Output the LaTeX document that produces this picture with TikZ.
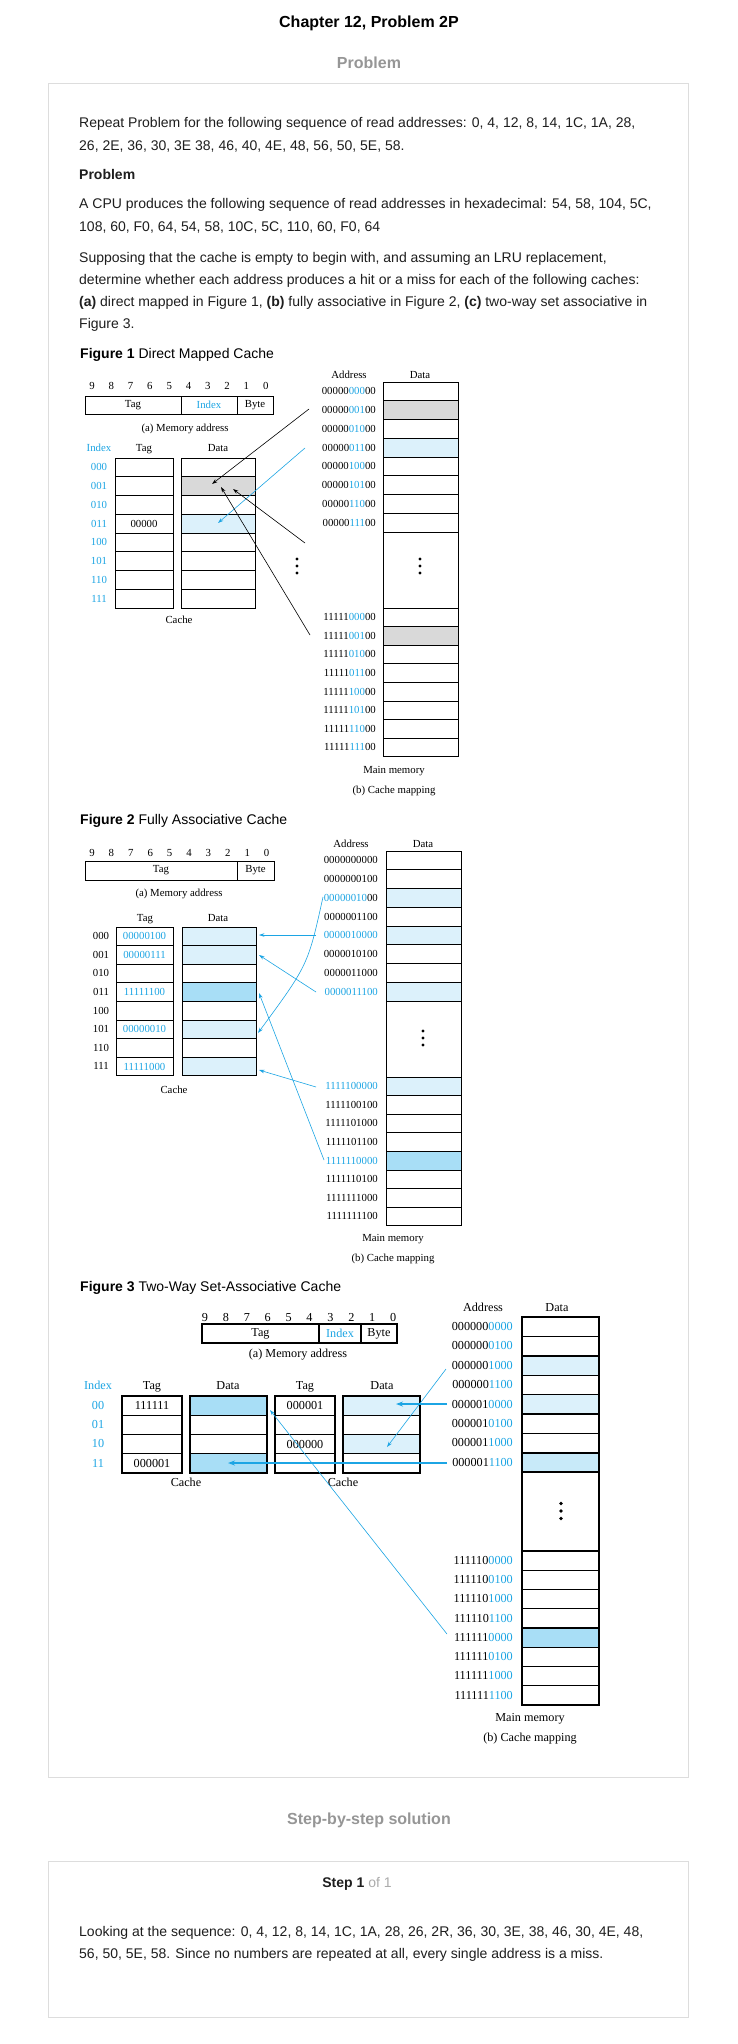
\documentclass[tikz,border=0pt]{standalone}
\usepackage{fontspec}
\setmainfont{Liberation Serif}
\newfontfamily\websans{Liberation Sans}
\usetikzlibrary{arrows.meta}
\definecolor{cb}{RGB}{28,165,228}
\definecolor{fillL}{RGB}{220,241,251}
\definecolor{fillM}{RGB}{200,234,249}
\definecolor{fillD}{RGB}{168,222,246}
\definecolor{fillG}{RGB}{217,217,217}
\definecolor{frameG}{RGB}{221,221,221}
\definecolor{headG}{RGB}{150,150,150}
\definecolor{txt}{RGB}{30,30,30}
\tikzset{
  web/.style={font=\websans\fontsize{14}{16}\selectfont, text=txt, inner sep=0pt, anchor=base west},
  webhead/.style={font=\websans\bfseries\fontsize{16}{18}\selectfont, inner sep=0pt, anchor=base},
  frame/.style={draw=frameG, line width=1pt},
  cellA/.style={draw=black, line width=0.7pt, inner sep=0pt, outer sep=0pt, anchor=north west, font=\fontsize{10.8}{12}\selectfont},
  cellB/.style={cellA, line width=1.4pt, font=\fontsize{12.2}{14}\selectfont},
  lblA/.style={inner sep=0pt, font=\fontsize{10.8}{12}\selectfont, text height=7.3pt, text depth=0.6pt},
  lblB/.style={inner sep=0pt, font=\fontsize{12.2}{14}\selectfont, text height=8.2pt, text depth=0.7pt},
  arr/.style={line width=0.6pt, -{Stealth[length=5.5pt,width=3.6pt]}},
  arrB/.style={arr, draw=cb},
  arrT/.style={draw=cb, line width=1.5pt, -{Stealth[length=7pt,width=5pt]}},
  dot/.style={fill=black},
}
\begin{document}
\begin{tikzpicture}[x=1pt,y=-1pt]
\useasboundingbox (0,0) rectangle (738,2044);
\fill[white] (0,0) rectangle (738,2044);

% ---------------- web texts ----------------
\node[webhead] (title) at (369,28) {Chapter 12, Problem 2P};
\node[webhead, text=headG] (probhead) at (369,69) {Problem};
\draw[frame] (48.5,84) rectangle (688,1777);
\node[web] (l1) at (79,128) {Repeat Problem for the following sequence of read addresses: 0, 4, 12, 8, 14, 1C, 1A, 28,};
\node[web] (l2) at (79,151) {26, 2E, 36, 30, 3E 38, 46, 40, 4E, 48, 56, 50, 5E, 58.};
\node[web] (l3) at (79,180) {\bfseries Problem};
\node[web] (l4) at (79,209) {A CPU produces the following sequence of read addresses in hexadecimal: 54, 58, 104, 5C,};
\node[web] (l5) at (79,232) {108, 60, F0, 64, 54, 58, 10C, 5C, 110, 60, F0, 64};
\node[web] (l6) at (79,262) {Supposing that the cache is empty to begin with, and assuming an LRU replacement,};
\node[web] (l7) at (79,284) {determine whether each address produces a hit or a miss for each of the following caches:};
\node[web] (l8) at (79,306) {\textbf{(a)} direct mapped in Figure 1, \textbf{(b)} fully associative in Figure 2, \textbf{(c)} two-way set associative in};
\node[web] (l9) at (79,328) {Figure 3.};

% ================= FIGURE 1 =================
\node[web, text=black] (fAhead) at (80,358) {\textbf{Figure 1} Direct Mapped Cache};
\foreach \k in {0,...,9} {
  \pgfmathtruncatemacro\bit{9-\k}
  \node[lblA] (fAb\k) at ({92+\k*19.3},386) {\bit};
}
\node[cellA, minimum width=96pt, minimum height=18pt] (fAtag) at (85,396) {Tag};
\node[cellA, minimum width=56pt, minimum height=18pt, text=cb] (fAidx) at (181,396) {Index};
\node[cellA, minimum width=36pt, minimum height=18pt] (fAbyte) at (237,396) {Byte};
\node[lblA] (fAma) at (185,428) {(a) Memory address};
\node[lblA, text=cb] (fAhi) at (99,448) {Index};
\node[lblA] (fAht) at (144,448) {Tag};
\node[lblA] (fAhd) at (218,448) {Data};
\foreach \i/\b/\t/\f in {0/000/{}/white,1/001/{}/fillG,2/010/{}/white,3/011/00000/fillL,4/100/{}/white,5/101/{}/white,6/110/{}/white,7/111/{}/white} {
  \node[lblA, text=cb] (fAi\i) at (99,{467.4+\i*18.75}) {\b};
  \node[cellA, minimum width=58pt, minimum height=18.75pt] (fAt\i) at (115,{458+\i*18.75}) {\t};
  \node[cellA, minimum width=74pt, minimum height=18.75pt, fill=\f] (fAd\i) at (181,{458+\i*18.75}) {};
}
\node[lblA] (fAcache) at (179,620) {Cache};
% memory
\node[lblA] (fAha) at (349,375) {Address};
\node[lblA] (fAhm) at (420,375) {Data};
\foreach \i/\b/\f in {0/000/white,1/001/fillG,2/010/white,3/011/fillL,4/100/white,5/101/white,6/110/white,7/111/white} {
  \node[cellA, minimum width=75pt, minimum height=18.75pt, fill=\f] (fAm\i) at (383,{382+\i*18.75}) {};
  \node[lblA, anchor=east] (fAa\i) at (376,{391.4+\i*18.75}) {00000\textcolor{cb}{\b}00};
}
\node[cellA, minimum width=75pt, minimum height=76pt] (fAgap) at (383,532) {};
\foreach \i/\b/\f in {0/000/white,1/001/fillG,2/010/white,3/011/white,4/100/white,5/101/white,6/110/white,7/111/white} {
  \node[cellA, minimum width=75pt, minimum height=18.6pt, fill=\f] (fAn\i) at (383,{608+\i*18.6}) {};
  \node[lblA, anchor=east] (fAl\i) at (376,{617.3+\i*18.6}) {11111\textcolor{cb}{\b}00};
}
\foreach \d in {-7,0,7} {
  \fill[dot] (297,{566+\d}) circle (1.6);
  \fill[dot] (420,{566+\d}) circle (1.6);
}
\node[lblA] (fAmm) at (394,770) {Main memory};
\node[lblA] (fAcm) at (394,790) {(b) Cache mapping};
\coordinate (fAs1) at (309,409); \coordinate (fAe1) at (212,484);
\coordinate (fAs2) at (305,448); \coordinate (fAe2) at (218,523);
\coordinate (fAs3) at (305,543); \coordinate (fAe3) at (233,489);
\coordinate (fAs4) at (310,635); \coordinate (fAe4) at (221,487);
\draw[arr] (fAs1) -- (fAe1);
\draw[arrB] (fAs2) -- (fAe2);
\draw[arr] (fAs3) -- (fAe3);
\draw[arr] (fAs4) -- (fAe4);

% ================= FIGURE 2 =================
\node[web, text=black] (fBhead) at (80,824) {\textbf{Figure 2} Fully Associative Cache};
\foreach \k in {0,...,9} {
  \pgfmathtruncatemacro\bit{9-\k}
  \node[lblA] (fBb\k) at ({92+\k*19.4},853) {\bit};
}
\node[cellA, minimum width=152pt, minimum height=19pt] (fBtag) at (85,861) {Tag};
\node[cellA, minimum width=37pt, minimum height=19pt] (fBbyte) at (237,861) {Byte};
\node[lblA] (fBma) at (179,893) {(a) Memory address};
\node[lblA] (fBht) at (145,918) {Tag};
\node[lblA] (fBhd) at (218,918) {Data};
\foreach \i/\b/\t/\f in {0/000/00000100/fillL,1/001/00000111/fillL,2/010/{}/white,3/011/11111100/fillD,4/100/{}/white,5/101/00000010/fillL,6/110/{}/white,7/111/11111000/fillL} {
  \node[lblA] (fBi\i) at (101,{936.3+\i*18.6}) {\b};
  \node[cellA, minimum width=57pt, minimum height=18.6pt, text=cb] (fBt\i) at (116,{927+\i*18.6}) {\t};
  \node[cellA, minimum width=74pt, minimum height=18.6pt, fill=\f] (fBd\i) at (182,{927+\i*18.6}) {};
}
\node[lblA] (fBcache) at (174,1090) {Cache};
\node[lblA] (fBha) at (351,844) {Address};
\node[lblA] (fBhm) at (423,844) {Data};
\foreach \i/\a/\f in {0/0000000000/white,1/0000000100/white,2/{\textcolor{cb}{00000010}00}/fillL,3/0000001100/white,4/{\textcolor{cb}{0000010000}}/fillL,5/0000010100/white,6/0000011000/white,7/{\textcolor{cb}{0000011100}}/fillL} {
  \node[cellA, minimum width=75pt, minimum height=18.75pt, fill=\f] (fBm\i) at (386,{851+\i*18.75}) {};
  \node[lblA, anchor=east] (fBa\i) at (378,{860.4+\i*18.75}) {\a};
}
\node[cellA, minimum width=75pt, minimum height=76pt] (fBgap) at (386,1001) {};
\foreach \i/\a/\f in {0/{\textcolor{cb}{1111100000}}/fillL,1/1111100100/white,2/1111101000/white,3/1111101100/white,4/{\textcolor{cb}{1111110000}}/fillD,5/1111110100/white,6/1111111000/white,7/1111111100/white} {
  \node[cellA, minimum width=75pt, minimum height=18.6pt, fill=\f] (fBn\i) at (386,{1077+\i*18.6}) {};
  \node[lblA, anchor=east] (fBl\i) at (378,{1086.3+\i*18.6}) {\a};
}
\foreach \d in {-7,0,7} {
  \fill[dot] (423,{1038+\d}) circle (1.6);
}
\node[lblA] (fBmm) at (393,1238) {Main memory};
\node[lblA] (fBcm) at (393,1258) {(b) Cache mapping};
\coordinate (fBs1) at (316,935);  \coordinate (fBe1) at (259,935);
\coordinate (fBs2) at (316,992);  \coordinate (fBe2) at (259,955);
\coordinate (fBs3) at (323,897);  \coordinate (fBe3) at (258,1033);
\coordinate (fBs4) at (316,1087); \coordinate (fBe4) at (259,1070);
\coordinate (fBs5) at (324,1160); \coordinate (fBe5) at (259,993);
\draw[arrB] (fBs1) -- (fBe1);
\draw[arrB] (fBs2) -- (fBe2);
\draw[arrB] (fBs3) .. controls (308,965) .. (fBe3);
\draw[arrB] (fBs4) -- (fBe4);
\draw[arrB] (fBs5) -- (fBe5);

% ================= FIGURE 3 =================
\node[web, text=black] (fChead) at (80,1291) {\textbf{Figure 3} Two-Way Set-Associative Cache};
\foreach \k in {0,...,9} {
  \pgfmathtruncatemacro\bit{9-\k}
  \node[lblB] (fCb\k) at ({205+\k*20.9},1318) {\bit};
}
\node[cellB, minimum width=117pt, minimum height=19pt] (fCtag) at (202,1324) {Tag};
\node[cellB, minimum width=42pt, minimum height=19pt, text=cb] (fCidx) at (319,1324) {Index};
\node[cellB, minimum width=36pt, minimum height=19pt] (fCbyte) at (361,1324) {Byte};
\node[lblB] (fCma) at (298,1354) {(a) Memory address};
\node[lblB, text=cb] (fChi) at (98,1386) {Index};
\node[lblB] (fCht1) at (152,1386) {Tag};
\node[lblB] (fChd1) at (228,1386) {Data};
\node[lblB] (fCht2) at (305,1386) {Tag};
\node[lblB] (fChd2) at (382,1386) {Data};
\foreach \i/\b/\ta/\fa/\tb/\fb in {0/00/111111/fillD/000001/fillL,1/01/{}/white/{}/white,2/10/{}/white/000000/fillL,3/11/000001/fillD/{}/white} {
  \node[lblB, text=cb] (fCi\i) at (98,{1405.6+\i*19.25}) {\b};
  \node[cellB, minimum width=60pt, minimum height=19.25pt] (fCt\i) at (122,{1396+\i*19.25}) {\ta};
  \node[cellB, minimum width=77pt, minimum height=19.25pt, fill=\fa] (fCd\i) at (190,{1396+\i*19.25}) {};
  \node[cellB, minimum width=60pt, minimum height=19.25pt] (fCu\i) at (275,{1396+\i*19.25}) {\tb};
  \node[cellB, minimum width=77pt, minimum height=19.25pt, fill=\fb] (fCe\i) at (343,{1396+\i*19.25}) {};
}
\node[lblB] (fCcache1) at (186,1483) {Cache};
\node[lblB] (fCcache2) at (343,1483) {Cache};
\node[lblB] (fCha) at (483,1308) {Address};
\node[lblB] (fChm) at (557,1308) {Data};
\foreach \i/\h/\l/\f in {0/000000/0000/white,1/000000/0100/white,2/000000/1000/fillL,3/000000/1100/white,4/000001/0000/fillL,5/000001/0100/white,6/000001/1000/white,7/000001/1100/fillM} {
  \node[cellB, minimum width=77pt, minimum height=19.4pt, fill=\f] (fCm\i) at (522,{1317+\i*19.4}) {};
  \node[lblB, anchor=east] (fCa\i) at (513,{1326.7+\i*19.4}) {\h\textcolor{cb}{\l}};
}
\node[cellB, minimum width=77pt, minimum height=79pt] (fCgap) at (522,1472) {};
\foreach \i/\h/\l/\f in {0/111110/0000/white,1/111110/0100/white,2/111110/1000/white,3/111110/1100/white,4/111111/0000/fillD,5/111111/0100/white,6/111111/1000/white,7/111111/1100/white} {
  \node[cellB, minimum width=77pt, minimum height=19.25pt, fill=\f] (fCn\i) at (522,{1551+\i*19.25}) {};
  \node[lblB, anchor=east] (fCl\i) at (513,{1560.6+\i*19.25}) {\h\textcolor{cb}{\l}};
}
\foreach \d in {-7.5,0,7.5} {
  \fill[dot] (561,{1511+\d}) circle (1.8);
}
\node[lblB] (fCmm) at (530,1718) {Main memory};
\node[lblB] (fCcm) at (530,1738) {(b) Cache mapping};
\coordinate (fCs1) at (447,1404); \coordinate (fCe1) at (396,1404);
\coordinate (fCs2) at (446,1369); \coordinate (fCe2) at (387,1447);
\coordinate (fCs3) at (447,1463); \coordinate (fCe3) at (228,1463);
\coordinate (fCs4) at (447,1634); \coordinate (fCe4) at (270,1410);
\draw[arrT] (fCs1) -- (fCe1);
\draw[arrB] (fCs2) -- (fCe2);
\draw[arrT] (fCs3) -- (fCe3);
\draw[arrB] (fCs4) -- (fCe4);

% ---------------- solution ----------------
\node[webhead, text=headG] (solhead) at (369,1824) {Step-by-step solution};
\draw[frame] (48.5,1861) rectangle (688,2017);
\node[web, anchor=base] (step) at (357,1887) {\textbf{Step 1} \textcolor{headG!80}{of 1}};
\node[web] (s1) at (79,1936) {Looking at the sequence: 0, 4, 12, 8, 14, 1C, 1A, 28, 26, 2R, 36, 30, 3E, 38, 46, 30, 4E, 48,};
\node[web] (s2) at (79,1958) {56, 50, 5E, 58. Since no numbers are repeated at all, every single address is a miss.};
\end{tikzpicture}
\end{document}
